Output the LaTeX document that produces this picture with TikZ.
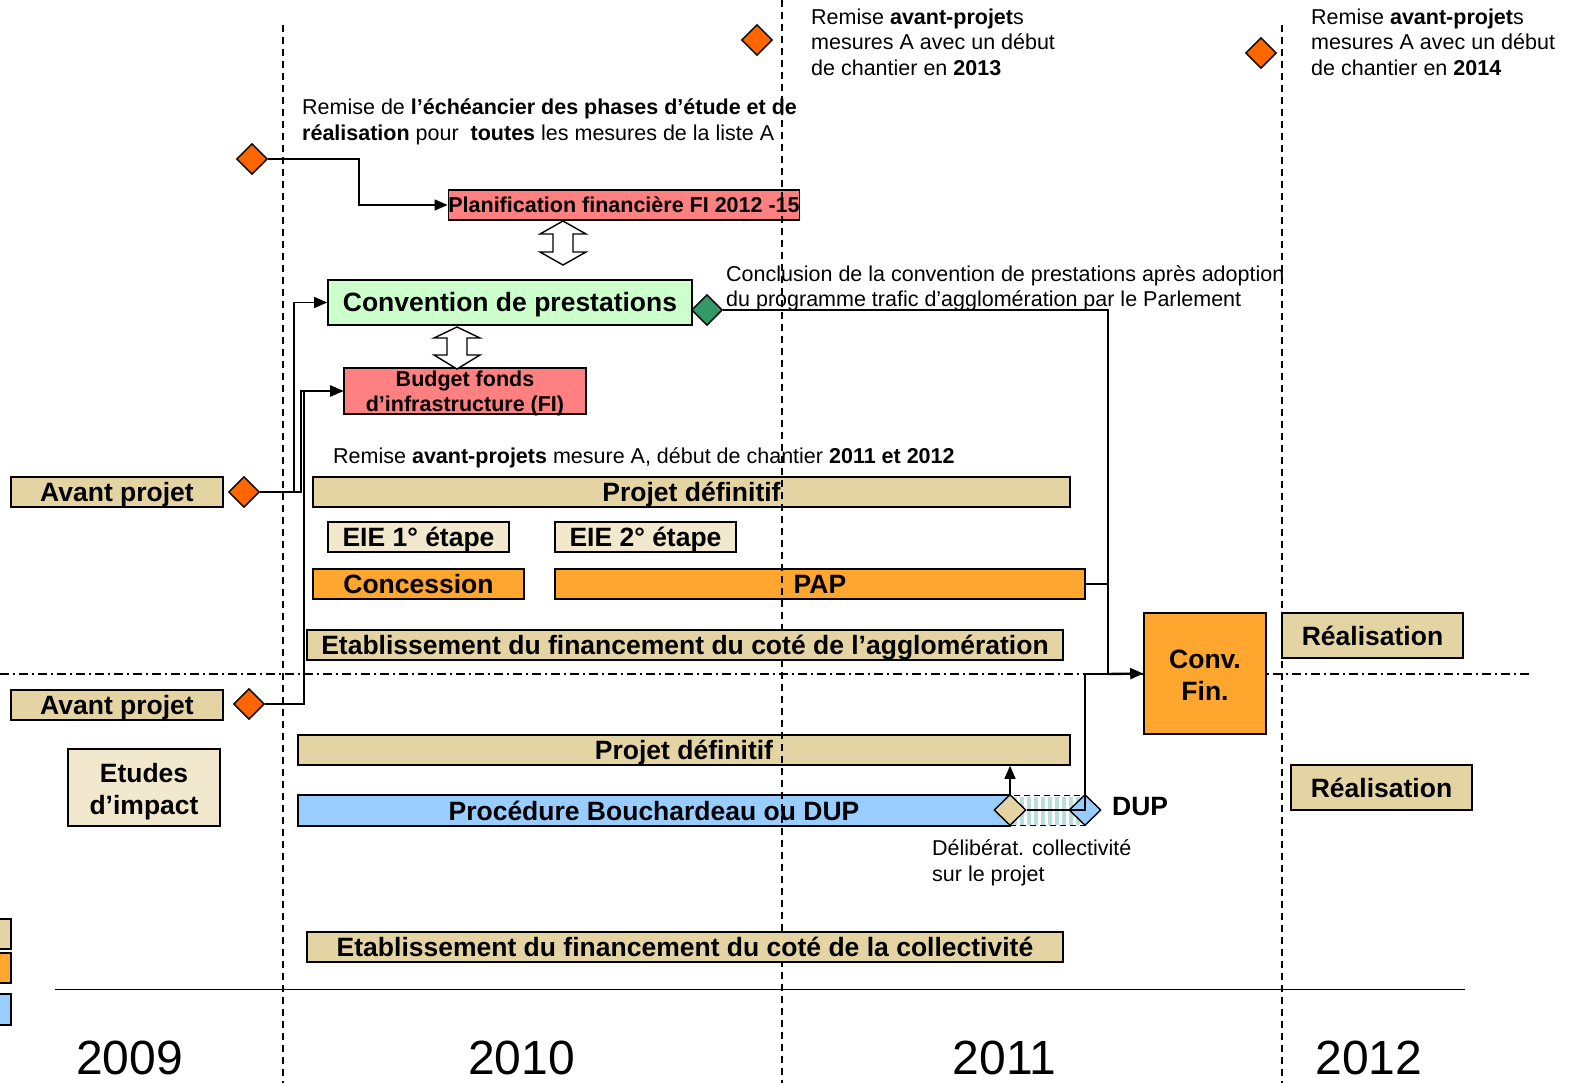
\documentclass[tikz,border=0pt]{standalone}
\usepackage{fontspec}
\setmainfont{Liberation Sans}
\usetikzlibrary{shapes.geometric,arrows.meta,calc}
\definecolor{tanc}{RGB}{229,212,163}
\definecolor{creamc}{RGB}{242,232,206}
\definecolor{orngc}{RGB}{255,166,46}
\definecolor{lredc}{RGB}{255,128,128}
\definecolor{lgreenc}{RGB}{204,255,204}
\definecolor{lbluec}{RGB}{153,204,255}
\definecolor{dorangec}{RGB}{255,102,0}
\definecolor{dgreenc}{RGB}{51,153,102}
\definecolor{hatchc}{RGB}{185,222,222}
\begin{document}
\begin{tikzpicture}[x=1pt,y=-1pt,
 box/.style={draw=black, line width=1.6pt, inner sep=0pt},
 bar/.style={box, font=\fontsize{26.5}{32}\selectfont\bfseries, text height=19pt, text depth=0pt},
 mlabel/.style={font=\fontsize{26.5}{32}\selectfont\bfseries, align=center},
 dia/.style={diamond, draw=black, line width=1.4pt, inner sep=0pt, minimum width=31pt, minimum height=31pt},
 conn/.style={draw=black, line width=1.4pt},
 arr/.style={conn, -{Triangle[length=13pt,width=11pt]}},
 small/.style={font=\fontsize{21.5}{25.5}\selectfont, inner sep=0pt, align=left, anchor=west},
 year/.style={font=\fontsize{48}{50}\selectfont, inner sep=0pt},
 vdash/.style={line width=1.4pt, dash pattern=on 7pt off 5pt},
 ddash/.style={line width=1.4pt, dash pattern=on 9pt off 4pt on 2pt off 4pt},
 hollow/.style={draw=black, line width=1.4pt, fill=white, line join=miter}
]
\useasboundingbox (0,0) rectangle (1575,1083);
\fill[white] (0,0) rectangle (1575,1083);

% dash-dot separator and time axis
\draw[ddash] (0,674) -- (1532,674);
\draw[line width=1.6pt] (55,989.5) -- (1465,989.5);

% texts
\node[small] (t1) at (302,122) {Remise de \textbf{l’échéancier des phases d’étude et de}\\\textbf{réalisation} pour \ \textbf{toutes} les mesures de la liste A};
\node[small] (t2) at (811,42) {Remise \textbf{avant-projet}s\\mesures A avec un début\\de chantier en \textbf{2013}};
\node[small] (t3) at (1311,42) {Remise \textbf{avant-projet}s\\mesures A avec un début\\de chantier en \textbf{2014}};
\node[small] (t4) at (726,288.5) {Conclusion de la convention de prestations après adoption\\du programme trafic d’agglomération par le Parlement};
\node[small] (t5) at (333,458) {Remise \textbf{avant-projets} mesure A, début de chantier \textbf{2011 et 2012}};
\node[small] (t6) at (932,863) {Délibérat. collectivité\\sur le projet};
\node[anchor=west, inner sep=0pt, font=\fontsize{26.5}{30}\selectfont\bfseries] (duplab) at (1112,807) {DUP};

% bars
\node[bar, fill=lredc, minimum width=350, minimum height=30, font=\fontsize{21.5}{25}\selectfont\bfseries, text height=15.4pt] (plan) at (624,205) {Planification financière FI 2012 -15};
\node[bar, fill=lgreenc, minimum width=364, minimum height=45] (conv) at (510,302.5) {Convention de prestations};
\node[box, fill=lredc, minimum width=242, minimum height=46,
  label={[mlabel, font=\fontsize{21.5}{25}\selectfont\bfseries, yshift=-2pt]center:{Budget fonds\\d’infrastructure (FI)}}] (budget) at (465,391) {};
\node[bar, fill=tanc, minimum width=212, minimum height=30] (ap1) at (117,492) {Avant projet};
\node[bar, fill=tanc, minimum width=757, minimum height=30] (pd1) at (691.5,492) {Projet définitif};
\node[bar, fill=creamc, minimum width=181, minimum height=30] (eie1) at (418.5,537) {EIE 1° étape};
\node[bar, fill=creamc, minimum width=181, minimum height=30] (eie2) at (645.5,537) {EIE 2° étape};
\node[bar, fill=orngc, minimum width=211, minimum height=30] (conc) at (418.5,584) {Concession};
\node[bar, fill=orngc, minimum width=530, minimum height=30] (pap) at (820,584) {PAP};
\node[bar, fill=tanc, minimum width=212, minimum height=30] (ap2) at (117,705) {Avant projet};
\node[box, fill=creamc, minimum width=152, minimum height=77,
  label={[mlabel, yshift=-4pt]center:{Etudes\\d’impact}}] (etu) at (144,787.5) {};
\node[bar, fill=tanc, minimum width=772, minimum height=30] (pd2) at (684,750) {Projet définitif};
\node[bar, fill=lbluec, minimum width=712, minimum height=31] (proc) at (654,810.5) {Procédure Bouchardeau ou DUP};
\node[box, fill=orngc, minimum width=122, minimum height=121,
  label={[mlabel, yshift=-2pt]center:{Conv.\\Fin.}}] (cfin) at (1205,673.5) {};
\node[bar, fill=tanc, minimum width=181, minimum height=45] (real1) at (1372.5,635.5) {Réalisation};
\node[bar, fill=tanc, minimum width=181, minimum height=45] (real2) at (1381.5,787.5) {Réalisation};
\node[box, fill=tanc, minimum width=21, minimum height=30] (leg1) at (0.5,934) {};
\node[box, fill=orngc, minimum width=21, minimum height=30] (leg2) at (0.5,968) {};
\node[box, fill=lbluec, minimum width=21, minimum height=31] (leg3) at (0.5,1009.5) {};

% hatched DUP interval
\foreach \x in {1013,1020,...,1080} \fill[hatchc] (\x,797) rectangle ++(3.5,28);
\draw[line width=1.4pt, dash pattern=on 6pt off 4pt] (1010,795.5) rectangle (1085,825.5);

% diamonds
\node[dia, fill=dorangec] (d0) at (252,159) {};
\node[dia, fill=dorangec] (dt1) at (757,40) {};
\node[dia, fill=dorangec] (dt2) at (1261,53) {};
\node[dia, fill=dgreenc] (gd) at (707,310) {};
\node[dia, fill=dorangec] (dap1) at (244,492) {};
\node[dia, fill=dorangec] (dap2) at (249,704) {};
\node[dia, fill=tanc, minimum width=32pt] (tand) at (1010,810) {};
\node[dia, fill=lbluec, minimum width=32pt] (bd) at (1085,810) {};

% connectors
\coordinate (j) at (1108,674);
\draw[arr] (d0.east) -- (359,159) |- (plan.west);
\draw[arr] (dap1.east) -- (294,492) |- (conv.west);
\draw[arr] (dap1.east) -- (301,492) |- (budget.west);
\draw[arr] (dap2.east) -- (304,704) |- (budget.west);
\draw[conn] (gd.east) -| (j);
\draw[conn, line width=2.4pt] (pap.east) -| (j);
\draw[conn] (tand.east) -- (bd.center) |- (j);
\draw[arr, line width=2.4pt] (j) -- (cfin.west);
\draw[arr] (tand.north) -- (tand.north |- pd2.south);

% hollow double arrows
\draw[hollow] (563,221) -- (586,234) -- (573,234) -- (573,252) -- (586,252) -- (563,265) -- (540,252) -- (553,252) -- (553,234) -- (540,234) -- cycle;
\draw[hollow] (457,327) -- (480,338) -- (467,338) -- (467,355) -- (480,355) -- (457,369) -- (434,355) -- (447,355) -- (447,338) -- (434,338) -- cycle;

% year dividers (on top)
\draw[vdash] (283,25) -- (283,1083);
\draw[vdash] (782,0) -- (782,1083);
\draw[vdash] (1282,25) -- (1282,1083);

% boxes drawn over the dividers
\node[bar, fill=tanc, minimum width=756, minimum height=30] (eta1) at (685,645) {Etablissement du financement du coté de l’agglomération};
\node[bar, fill=tanc, minimum width=756, minimum height=30] (eta2) at (685,947) {Etablissement du financement du coté de la collectivité};

% years
\node[year] (y9) at (129.5,1058) {2009};
\node[year] (y10) at (521.5,1058) {2010};
\node[year] (y11) at (1004.5,1058) {2011};
\node[year] (y12) at (1369,1058) {2012};
\end{tikzpicture}
\end{document}
